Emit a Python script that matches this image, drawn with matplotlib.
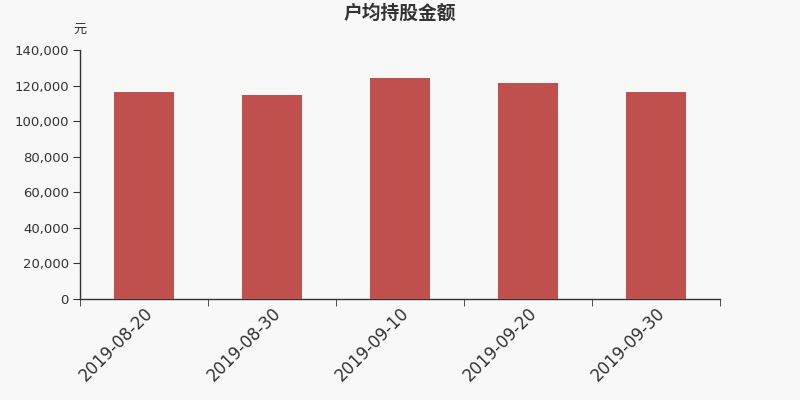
import matplotlib
matplotlib.use("Agg")
import matplotlib.pyplot as plt
from matplotlib.ticker import FuncFormatter, FixedLocator

plt.rcParams['font.family'] = ['DejaVu Sans', 'Noto Sans CJK SC']

categories = ["2019-08-20", "2019-08-30", "2019-09-10", "2019-09-20", "2019-09-30"]
values = [116300, 114700, 124200, 121500, 116200]
yticks = [0, 20000, 40000, 60000, 80000, 100000, 120000, 140000]

bg = "#f8f8f8"
fig = plt.figure(figsize=(8, 4), dpi=100, facecolor=bg)
ax = fig.add_axes([0.1, 0.2525, 0.8, 0.6225], facecolor=bg)

x = list(range(len(categories)))
ax.bar(x, values, width=0.47, color="#c0504d", zorder=3)

ax.set_xlim(-0.5, len(categories) - 0.5)
ax.set_ylim(0, 140000)
ax.set_yticks(yticks)
ax.yaxis.set_major_formatter(FuncFormatter(lambda v, p: f"{int(v):,}"))

# category labels at centres, tick marks at boundaries
ax.set_xticks(x)
ax.set_xticklabels(categories, rotation=45, ha='right', va='top', rotation_mode='anchor', fontsize=12, color="#333333")
ax.tick_params(axis='x', which='major', length=0, pad=4)
ax.xaxis.set_minor_locator(FixedLocator([i - 0.5 for i in range(len(categories) + 1)]))
ax.tick_params(axis='x', which='minor', length=5, color="#333333", direction='out')

ax.tick_params(axis='y', length=5, color="#333333", labelsize=9.5, labelcolor="#333333", pad=3)

for s in ['top', 'right']:
    ax.spines[s].set_visible(False)
for s in ['left', 'bottom']:
    ax.spines[s].set_color("#333333")
    ax.spines[s].set_linewidth(1)

fig.text(0.5, 0.967, "户均持股金额", ha='center', va='center', fontsize=13.5, fontweight='bold',
         color="#333333", family=['Noto Sans CJK SC', 'DejaVu Sans'])
fig.text(0.1, 0.928, "元", ha='center', va='center', fontsize=9.5, color="#333333",
         family=['Noto Sans CJK SC', 'DejaVu Sans'])

fig.savefig("out.png", dpi=100, facecolor=bg)
